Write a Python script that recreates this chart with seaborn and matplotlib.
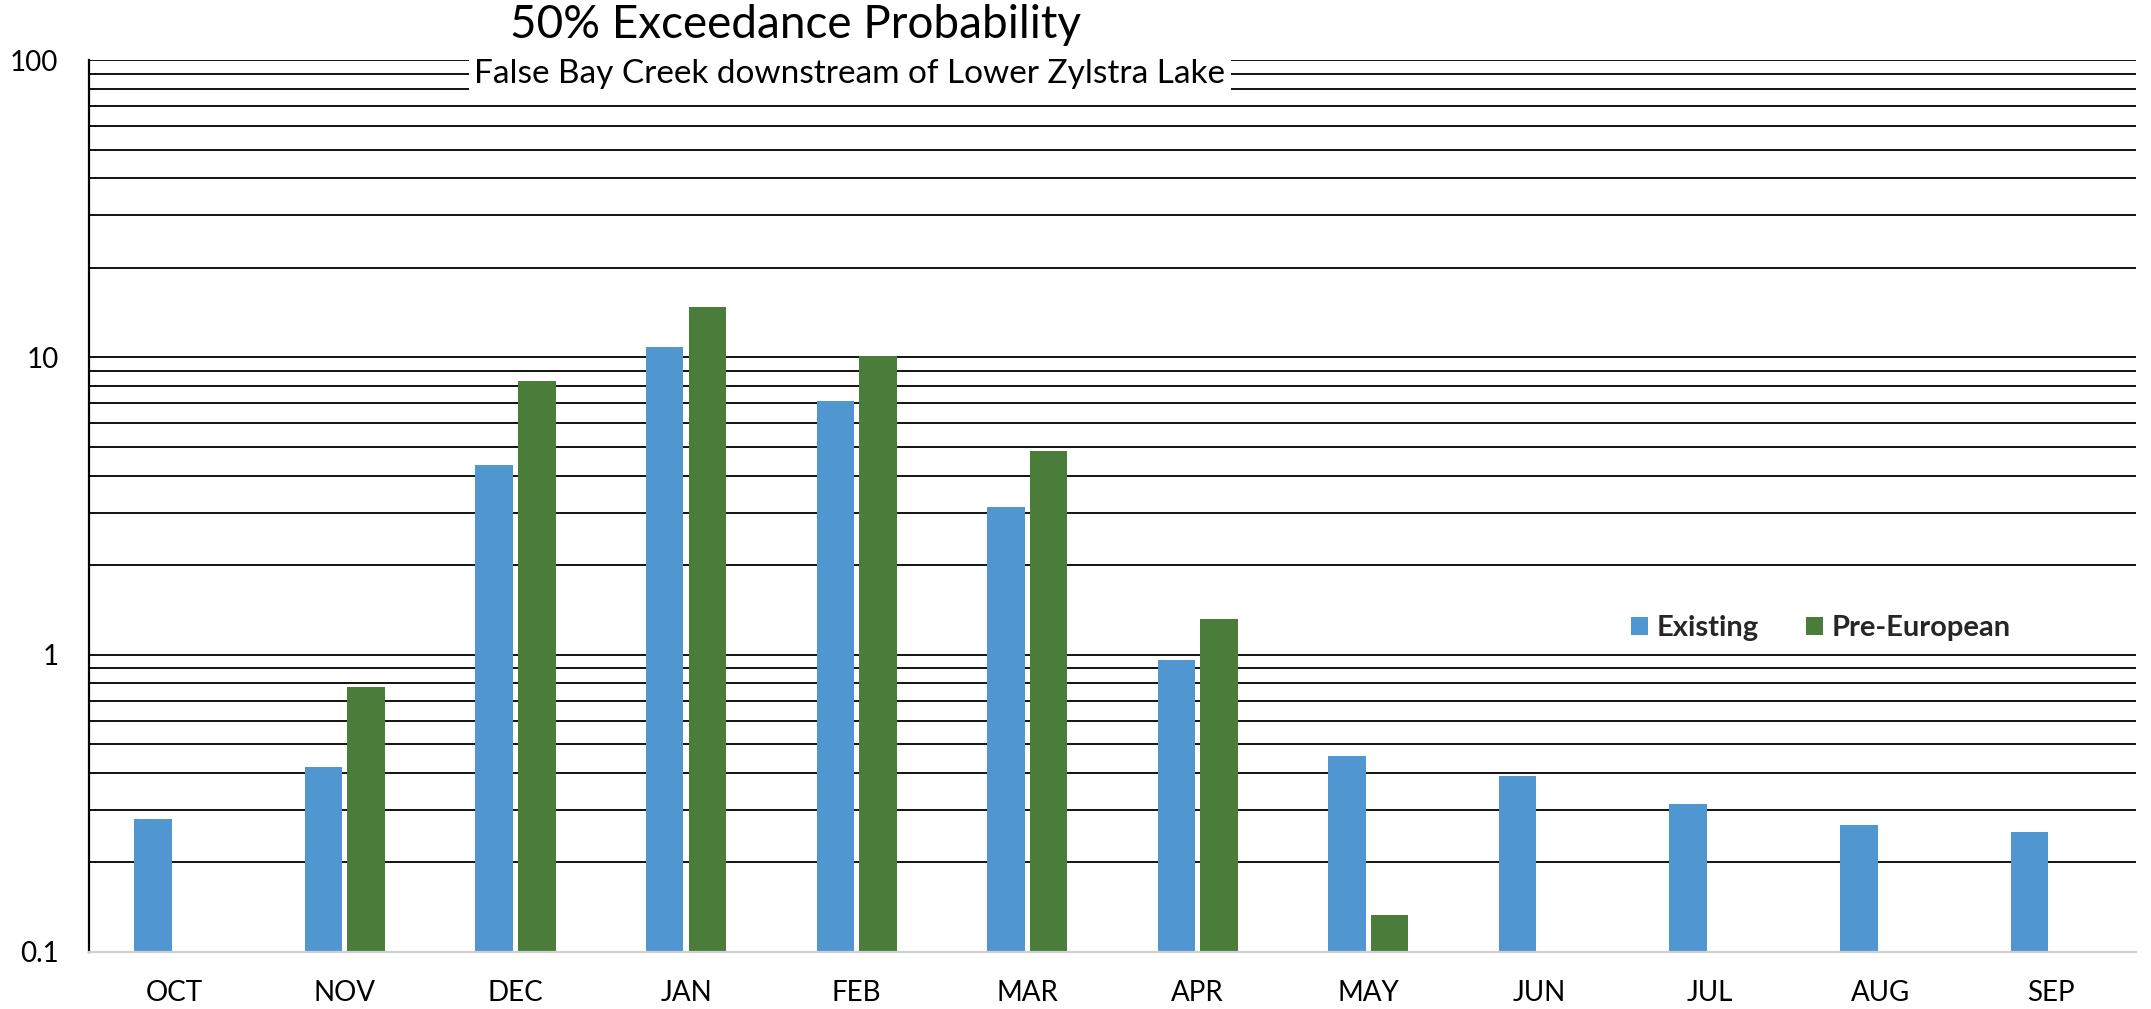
import numpy as np
import pandas as pd
import seaborn as sns
import matplotlib.pyplot as plt
from matplotlib.ticker import LogLocator, FixedLocator, FixedFormatter, NullFormatter

months = ['OCT', 'NOV', 'DEC', 'JAN', 'FEB', 'MAR', 'APR', 'MAY', 'JUN', 'JUL', 'AUG', 'SEP']
existing = [0.28, 0.42, 4.33, 10.8, 7.12, 3.15, 0.96, 0.456, 0.39, 0.315, 0.268, 0.253]
pre_european = [0.0, 0.78, 8.35, 14.8, 10.1, 4.86, 1.32, 0.133, 0.0, 0.0, 0.0, 0.0]
series = ['Existing', 'Pre-European']
colors = ['#5097d1', '#4a7d3a']
y_ticks = [0.1, 1, 10, 100]
y_labels = ['0.1', '1', '10', '100']

df = pd.DataFrame({
    'month': months * 2,
    'value': existing + pre_european,
    'series': [series[0]] * len(months) + [series[1]] * len(months),
})

sns.set_style('white')
plt.rcParams['font.family'] = ['Lato', 'DejaVu Sans']

fig = plt.figure(figsize=(21.51, 10.09), dpi=100)
ax = fig.add_axes([89 / 2151, 1 - 952 / 1009, (2136 - 89) / 2151, (952 - 60) / 1009])

sns.barplot(data=df, x='month', y='value', hue='series', order=months,
            hue_order=series, palette=colors, width=0.5, gap=0.12,
            linewidth=0, saturation=1, ax=ax, legend=True)

ax.set_yscale('log')
ax.set_ylim(0.1, 100)
ax.set_xlim(-0.5, len(months) - 0.5)

ax.yaxis.set_major_locator(FixedLocator(y_ticks))
ax.yaxis.set_major_formatter(FixedFormatter(y_labels))
ax.yaxis.set_minor_locator(LogLocator(base=10, subs=np.arange(2, 10)))
ax.yaxis.set_minor_formatter(NullFormatter())
ax.set_axisbelow(True)
ax.yaxis.grid(True, which='both', color='black', linewidth=1.3)
ax.xaxis.grid(False)

ax.tick_params(axis='both', which='both', length=0, labelsize=20, colors='black')
ax.tick_params(axis='x', pad=20)
ax.tick_params(axis='y', pad=22)

for side in ['top', 'right']:
    ax.spines[side].set_visible(False)
ax.spines['left'].set_color('black')
ax.spines['left'].set_linewidth(1.6)
ax.spines['bottom'].set_color('#d0d0d0')
ax.spines['bottom'].set_linewidth(1.6)

ax.set_xlabel('')
ax.set_ylabel('')

leg = ax.legend(loc='center', bbox_to_anchor=(0.846, 0.363), ncol=2, frameon=False,
                prop={'weight': 'bold', 'size': 21}, handlelength=0.6, handleheight=0.6,
                columnspacing=1.6, handletextpad=0.3)

fig.text(795 / 2151, 1 - 25 / 1009, '50% Exceedance Probability', ha='center', va='center',
         fontsize=33, color='black')
fig.text(850 / 2151, 1 - 74 / 1009, 'False Bay Creek downstream of Lower Zylstra Lake',
         ha='center', va='center', fontsize=24, color='black',
         bbox=dict(facecolor='white', edgecolor='none', pad=4))

fig.savefig('out.png', dpi=100)
